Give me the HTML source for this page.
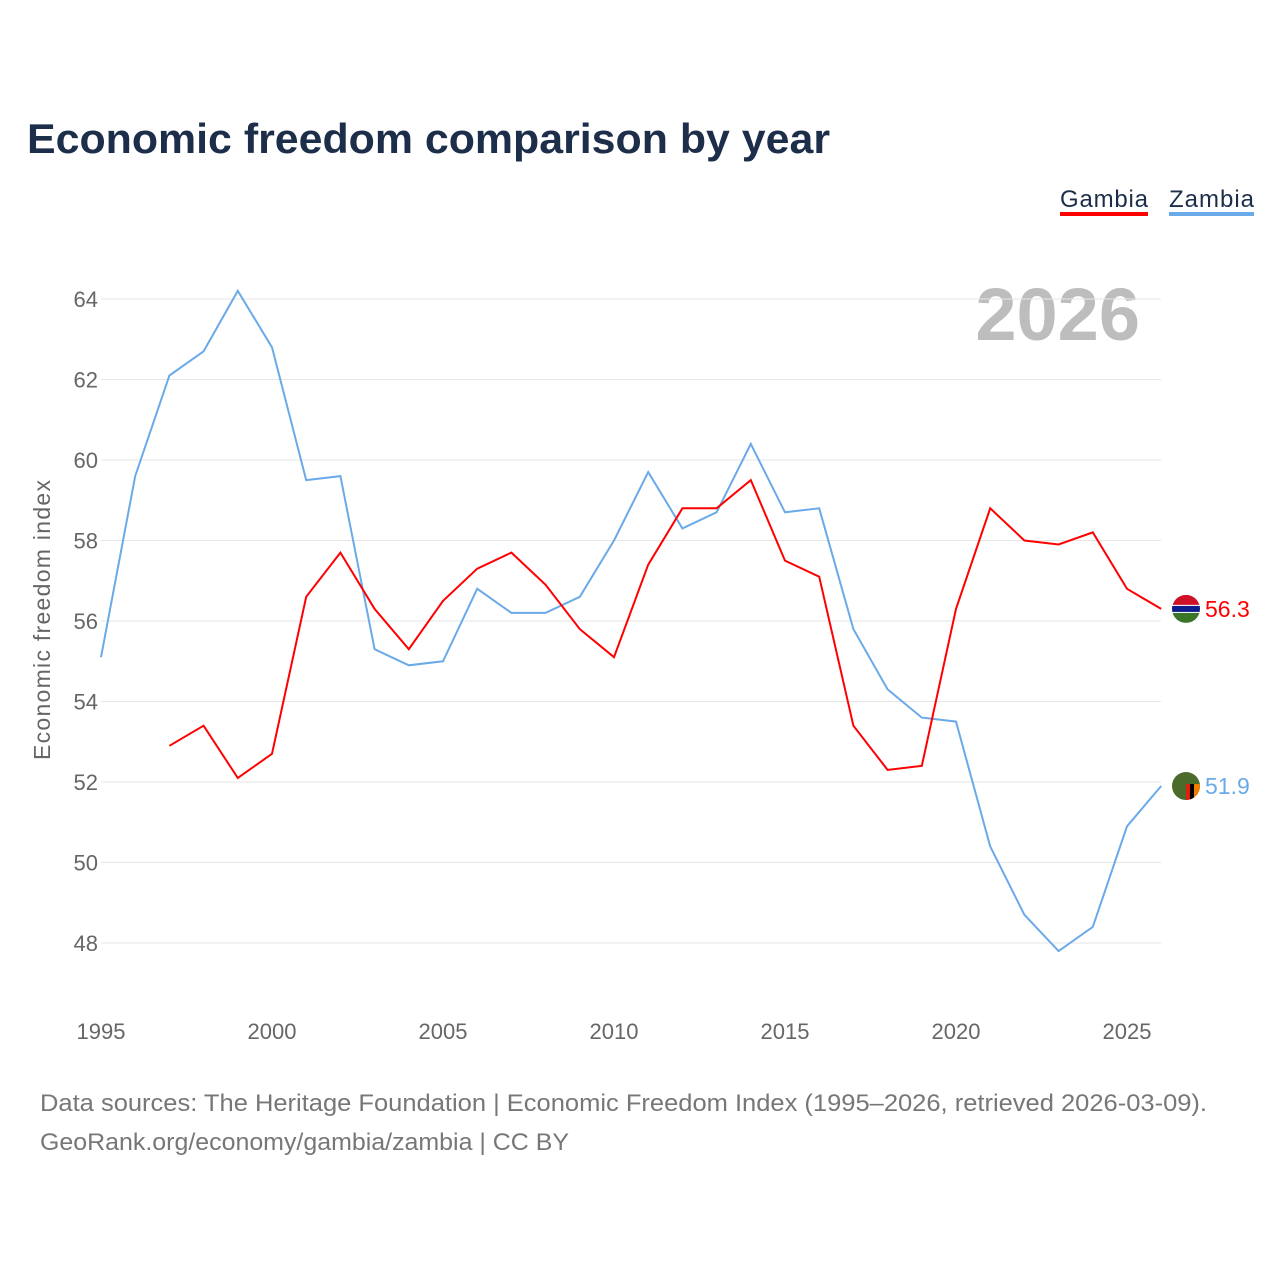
<!DOCTYPE html>
<html><head><meta charset="utf-8"><style>
body{margin:0;background:#fff;font-family:"Liberation Sans",sans-serif}
#wrap{position:relative;width:1280px;height:1280px;overflow:hidden}
</style></head><body>
<div id="wrap">
<svg id="chart" width="1280" height="1280">
<text x="27" y="153" font-size="42" font-weight="bold" fill="#1c2e4a" textLength="803" lengthAdjust="spacingAndGlyphs">Economic freedom comparison by year</text>
<g>
<text x="1060" y="207" font-size="24" fill="#1c2e4a" textLength="88">Gambia</text>
<rect x="1060" y="212" width="88" height="4" fill="#ff0000"/>
<text x="1169" y="207" font-size="24" fill="#1c2e4a" textLength="85">Zambia</text>
<rect x="1169" y="212" width="85" height="4" fill="#6aaae8"/>
</g>
<text x="1140" y="340" font-size="74" font-weight="bold" fill="#bdbdbd" text-anchor="end">2026</text>
<text transform="translate(50,620) rotate(-90)" font-size="23" fill="#666" text-anchor="middle" textLength="280">Economic freedom index</text>
<g id="grid"></g><g id="xt"></g><g id="lines"></g>
<text x="40" y="1111" font-size="24" fill="#777" textLength="1167" lengthAdjust="spacingAndGlyphs">Data sources: The Heritage Foundation | Economic Freedom Index (1995–2026, retrieved 2026-03-09).</text>
<text x="40" y="1150" font-size="24" fill="#777" textLength="529" lengthAdjust="spacingAndGlyphs">GeoRank.org/economy/gambia/zambia | CC BY</text>
</svg>
</div>
<script>
const years=[1995,1996,1997,1998,1999,2000,2001,2002,2003,2004,2005,2006,2007,2008,2009,2010,2011,2012,2013,2014,2015,2016,2017,2018,2019,2020,2021,2022,2023,2024,2025,2026];
const zambia=[55.1,59.6,62.1,62.7,64.2,62.8,59.5,59.6,55.3,54.9,55.0,56.8,56.2,56.2,56.6,58.0,59.7,58.3,58.7,60.4,58.7,58.8,55.8,54.3,53.6,53.5,50.4,48.7,47.8,48.4,50.9,51.9];
const gambia=[null,null,52.9,53.4,52.1,52.7,56.6,57.7,56.3,55.3,56.5,57.3,57.7,56.9,55.8,55.1,57.4,58.8,58.8,59.5,57.5,57.1,53.4,52.3,52.4,56.3,58.8,58.0,57.9,58.2,56.8,56.3];
const yTicks=[48,50,52,54,56,58,60,62,64];
const xTicks=[1995,2000,2005,2010,2015,2020,2025];
const NS="http://www.w3.org/2000/svg";
const X=y=>101+(y-1995)*34.2;
const Y=v=>299+(64-v)*40.25;
function mk(t,a,p){const e=document.createElementNS(NS,t);for(const k in a)e.setAttribute(k,a[k]);p.appendChild(e);return e;}
const grid=document.getElementById('grid');
yTicks.forEach(v=>{
 const l=mk('line',{x1:101,x2:1161,y1:Y(v),y2:Y(v),stroke:'#e6e6e6','stroke-width':1},grid);
 
 
 const t=mk('text',{x:98,y:Y(v)+8,'font-size':22,fill:'#666','text-anchor':'end'},grid);
 t.textContent=v;
 
 
});
const xt=document.getElementById('xt');
xTicks.forEach(v=>{
 const t=mk('text',{x:X(v),y:1039,'font-size':22,fill:'#666','text-anchor':'middle'},xt);
 t.textContent=v;
 
 
});
const lines=document.getElementById('lines');
function series(data,color,name){
 let d='';let pen=false;
 data.forEach((v,i)=>{if(v==null){pen=false;return;}d+=(pen?'L':'M')+X(years[i]).toFixed(1)+','+Y(v).toFixed(1);pen=true;});
 const p=mk('path',{d:d,fill:'none',stroke:color,'stroke-width':2},lines);
 
 
 const last=data[data.length-1];const cy=Y(last);
 const g=mk('g',{},lines);
 
 
 const cp=mk('clipPath',{id:'c'+name},g);mk('circle',{cx:1186,cy:cy,r:14},cp);
 const inner=mk('g',{'clip-path':'url(#c'+name+')'},g);
 if(name==='gambia'){
  mk('rect',{x:1172,y:cy-14,width:28,height:10,fill:'#ce1126'},inner);
  mk('rect',{x:1172,y:cy-4,width:28,height:8,fill:'#fff'},inner);
  mk('rect',{x:1172,y:cy-3,width:28,height:6,fill:'#0c1c8c'},inner);
  mk('rect',{x:1172,y:cy+4,width:28,height:10,fill:'#3a7728'},inner);
 }else{
  mk('rect',{x:1172,y:cy-14,width:28,height:28,fill:'#4a6b2a'},inner);
  mk('rect',{x:1186,y:cy-2,width:4,height:16,fill:'#de2010'},inner);
  mk('rect',{x:1190,y:cy-2,width:4,height:16,fill:'#000'},inner);
  mk('rect',{x:1194,y:cy-2,width:6,height:16,fill:'#ef7d00'},inner);
 }
 const t=mk('text',{x:1205,y:cy+8,'font-size':23,fill:color},lines);
 t.textContent=last.toFixed(1);
 
 
}
series(zambia,'#6aaae8','zambia');
series(gambia,'#ff0000','gambia');
</script>
</body></html>
